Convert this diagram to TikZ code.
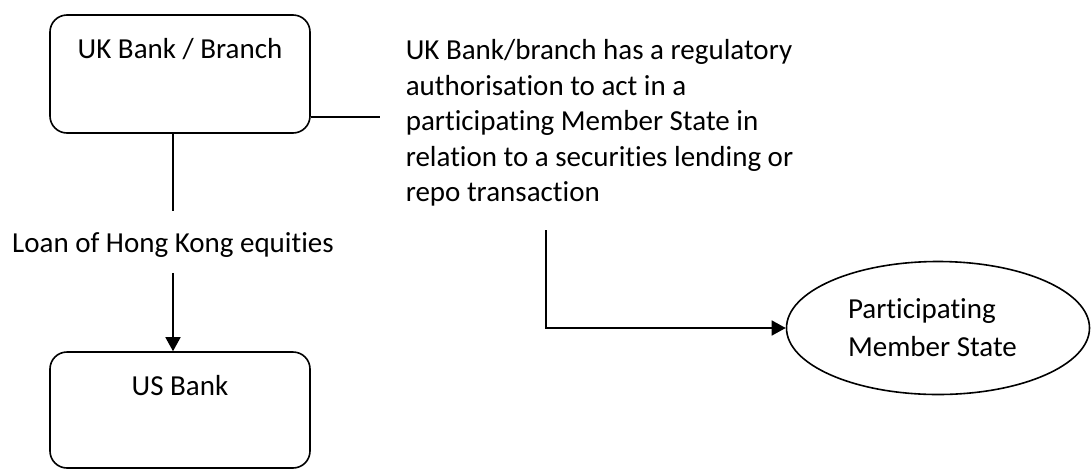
\documentclass[tikz,border=0pt]{standalone}
\usepackage{fontspec}
\setmainfont{Carlito}[Ligatures=NoCommon]
\usetikzlibrary{arrows.meta,shapes.geometric}

\begin{document}
\begin{tikzpicture}[x=1pt, y=-1pt, line width=1.6pt, >={Triangle[length=14pt, width=15pt]},
		every node/.style={font=\fontsize{29}{35.5}\selectfont},
		bankbox/.style={draw, rectangle, rounded corners=17pt, minimum width=260pt, inner sep=0pt, text height=43pt}]
		\useasboundingbox (0,0) rectangle (1091,469);

		\node[bankbox, text depth=75pt] (ukBank) at (180,74) {UK Bank / Branch};
		\node[bankbox, text depth=73pt] (usBank) at (180,410) {US Bank};

		\node[inner sep=0pt, text height=40pt, text depth=20pt] (loanLabel) at (173,242) {Loan of Hong Kong equities};

		\node[anchor=north west, inner sep=0pt, align=left] (authText) at (405,39) {UK Bank/branch has a regulatory\\authorisation to act in a\\participating Member State in\\relation to a securities lending or\\repo transaction};

		\node[draw, ellipse, minimum width=303pt, minimum height=133pt, text width=180pt, align=flush left, font=\fontsize{29}{38}\selectfont] (memberState) at (938,328) {Participating\\Member State};

		\coordinate (authTip) at (380,117);
		\coordinate (authFoot) at (546,230);

		\draw (ukBank.south -| loanLabel) -- (loanLabel.north);
		\draw[->] (loanLabel.south) -- (usBank.north -| loanLabel);

		\draw (authTip -| ukBank.east) -- (authTip);
		\draw[->] (authFoot) |- (memberState.west);
	\end{tikzpicture}
\end{document}
